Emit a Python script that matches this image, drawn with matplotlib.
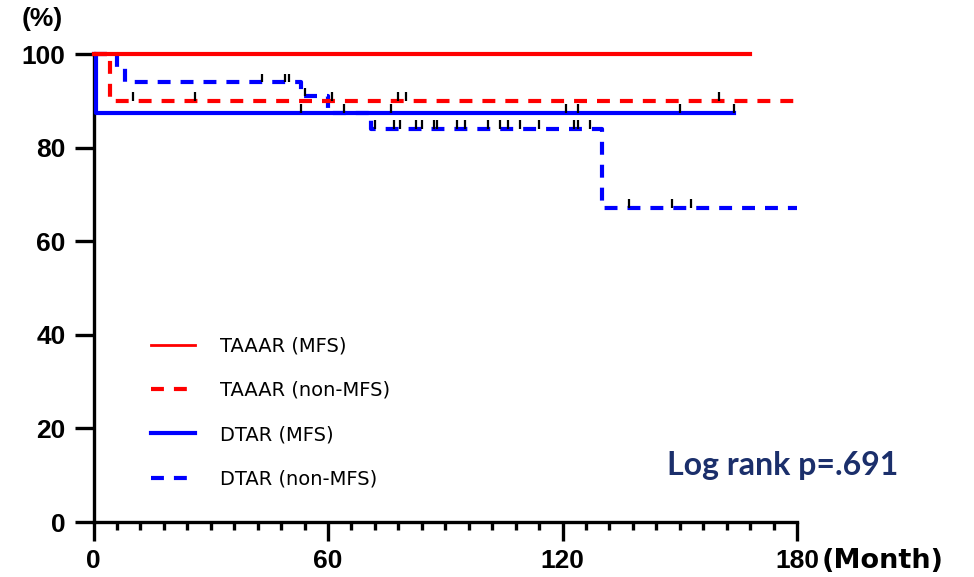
import numpy as np
import matplotlib
matplotlib.use("Agg")
import matplotlib.pyplot as plt
from matplotlib.lines import Line2D
from matplotlib.ticker import MultipleLocator

# Kaplan-Meier step curves (month, survival %)
taaar_mfs_t = [0, 168]
taaar_mfs_s = [100, 100]
taaar_mfs_cens = [3, 49, 67, 107, 152, 157, 168]

taaar_non_t = [0, 4.2, 180]
taaar_non_s = [100, 90, 90]
taaar_non_cens = [10, 26, 61, 78, 80, 160]

dtar_mfs_t = [0, 0.7, 164]
dtar_mfs_s = [100, 87.5, 87.5]
dtar_mfs_cens = [53, 64, 76, 121, 124, 150, 164]

dtar_non_t = [0, 6, 8, 53, 60, 71, 130, 180]
dtar_non_s = [100, 97, 94, 91, 87.5, 84, 67.2, 67.2]
dtar_non_cens = [43, 49, 50, 54, 72, 77, 78.5, 82.5, 84, 87, 88, 93, 95,
                 101, 104, 106, 109, 114, 123, 124, 127, 137, 148, 153]

labels = ["TAAAR (MFS)", "TAAAR (non-MFS)", "DTAR (MFS)", "DTAR (non-MFS)"]
pvalue_text = "Log rank p=.691"


def surv_at(times, surv, ct):
    idx = np.searchsorted(times, ct, side="right") - 1
    return np.asarray(surv)[idx]


fig = plt.figure(figsize=(9.74, 5.77), dpi=100)
ax = fig.add_axes([93.5 / 974, 55 / 577, 703.5 / 974, 468 / 577])

dash = (0, (3.1, 2.4))
curves = [
    (dtar_non_t, dtar_non_s, dtar_non_cens, "#0000ff", dash),
    (dtar_mfs_t, dtar_mfs_s, dtar_mfs_cens, "#0000ff", "-"),
    (taaar_non_t, taaar_non_s, taaar_non_cens, "#ff0000", dash),
    (taaar_mfs_t, taaar_mfs_s, taaar_mfs_cens, "#ff0000", "-"),
]
for t, s, cens, col, ls in curves:
    ax.step(t, s, where="post", color=col, lw=3.0, linestyle=ls,
            dash_capstyle="butt", clip_on=False, zorder=3)
    cy = surv_at(t, s, cens)
    ax.vlines(cens, cy, cy + 1.8, color="black", lw=1.6, zorder=4)

ax.set_xlim(0, 180)
ax.set_ylim(0, 100)
for sp in ["top", "right"]:
    ax.spines[sp].set_visible(False)
for sp in ["left", "bottom"]:
    ax.spines[sp].set_linewidth(2.4)

ax.xaxis.set_major_locator(MultipleLocator(60))
ax.xaxis.set_minor_locator(MultipleLocator(6))
ax.yaxis.set_major_locator(MultipleLocator(20))
ax.tick_params(axis="both", which="major", direction="out", length=14,
               width=2.4, labelsize=19, pad=6)
ax.tick_params(axis="x", which="major", pad=5.5)
ax.tick_params(axis="x", which="minor", direction="out", length=6, width=2.4)
for lab in ax.get_xticklabels() + ax.get_yticklabels():
    lab.set_fontfamily("Liberation Sans")
    lab.set_fontweight("bold")

fig.text(42 / 974, 1 - 19 / 577, "(%)", ha="center", va="center",
         fontsize=19, fontfamily="Liberation Sans", fontweight="bold")
fig.text(822 / 974, 1 - 561 / 577, "(Month)", ha="left", va="center",
         fontsize=19.5, fontfamily="DejaVu Sans", fontweight="bold")

handles = [
    Line2D([], [], color="#ff0000", lw=2.0),
    Line2D([], [], color="#ff0000", lw=3.0, linestyle=dash),
    Line2D([], [], color="#0000ff", lw=3.0),
    Line2D([], [], color="#0000ff", lw=3.0, linestyle=dash),
]
leg = ax.legend(handles, labels, loc="upper left",
                bbox_to_anchor=(0.0813, 0.396), frameon=False,
                prop={"family": "DejaVu Sans", "size": 14},
                handlelength=2.27, handletextpad=1.29, labelspacing=1.3,
                borderaxespad=0, borderpad=0)

ax.text(0.815, 0.1, pvalue_text, transform=ax.transAxes, ha="left",
        va="baseline", fontsize=23, fontfamily="Lato", fontweight="bold",
        color="#1b2f6b")

fig.savefig("out.png", dpi=100)
